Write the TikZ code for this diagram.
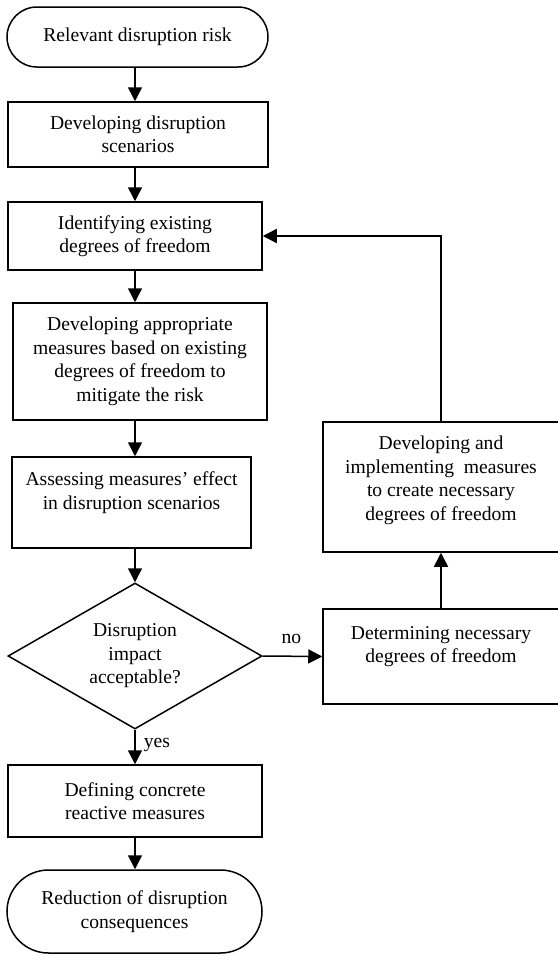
\documentclass[tikz,border=0pt]{standalone}
\usepackage{fontspec}
\setmainfont{Liberation Serif}
\usetikzlibrary{arrows.meta,shapes.geometric}
\begin{document}
\begin{tikzpicture}[x=1pt,y=-1pt,
  every node/.style={font=\fontsize{19.6}{23.5}\selectfont, align=center, inner sep=0pt},
  box/.style={draw, rectangle, line width=1.5pt},
  term/.style={draw, rectangle, rounded corners=#1, line width=1.5pt},
  decision/.style={draw, diamond, aspect=1.74, line width=1.5pt},
  arr/.style={line width=1.5pt, -{Triangle[width=14pt,length=14pt]}},
  lbl/.style={font=\fontsize{19.6}{23.5}\selectfont}
  ]
\useasboundingbox (0,0) rectangle (557,956);
\coordinate (col) at (135,0);
\coordinate (rcol) at (441,0);

\node[term=30pt, minimum width=261pt, minimum height=60pt] (start) at (137.5,37) {Relevant disruption risk};
\node[box, minimum width=260pt, minimum height=65pt] (b2) at (138,134.5) {Developing disruption\\scenarios};
\node[box, minimum width=254pt, minimum height=68pt] (b3) at (135,236) {Identifying existing\\degrees of freedom};
\node[box, minimum width=254pt, minimum height=117pt] (b4) at (140,361.5) {Developing appropriate\\measures based on existing\\degrees of freedom to\\mitigate the risk};
\node[box, minimum width=239pt, minimum height=91pt] (b5) at (131.5,502.5) {Assessing measures’ effect\\in disruption scenarios\\\mbox{}};
\node[decision, minimum width=254pt, minimum height=146pt] (dia) at (135,656) {Disruption\\impact\\acceptable?};
\node[box, minimum width=254pt, minimum height=72pt] (def) at (135,801) {Defining concrete\\reactive measures};
\node[term=41.5pt, minimum width=255pt, minimum height=83pt] (end) at (134.5,911.5) {Reduction of disruption\\consequences};
\node[box, minimum width=236pt, minimum height=95pt] (det) at (441,656.5) {Determining necessary\\degrees of freedom\\\mbox{}};
\node[box, minimum width=236pt, minimum height=130pt] (up) at (441,487) {Developing and\\implementing~ measures\\to create necessary\\degrees of freedom\\[-6pt]\mbox{}};

\draw[arr] (start.south -| col) -- (b2.north -| col);
\draw[arr] (b2.south -| col) -- (b3.north -| col);
\draw[arr] (b3.south -| col) -- (b4.north -| col);
\draw[arr] (b4.south -| col) -- (b5.north -| col);
\draw[arr] (b5.south -| col) -- (dia.north);
\draw[arr] (dia.south) -- (def.north -| col) node[lbl, pos=0.43, anchor=west, xshift=8pt] (yes) {yes};
\draw[arr] (def.south -| col) -- (end.north -| col);
\draw[arr] (dia.east) -- (det.west) node[lbl, pos=0.48, yshift=17pt] (no) {no};
\draw[arr] (det.north -| rcol) -- (up.south -| rcol);
\draw[arr] (up.north -| rcol) |- (b3.east);
\end{tikzpicture}
\end{document}
